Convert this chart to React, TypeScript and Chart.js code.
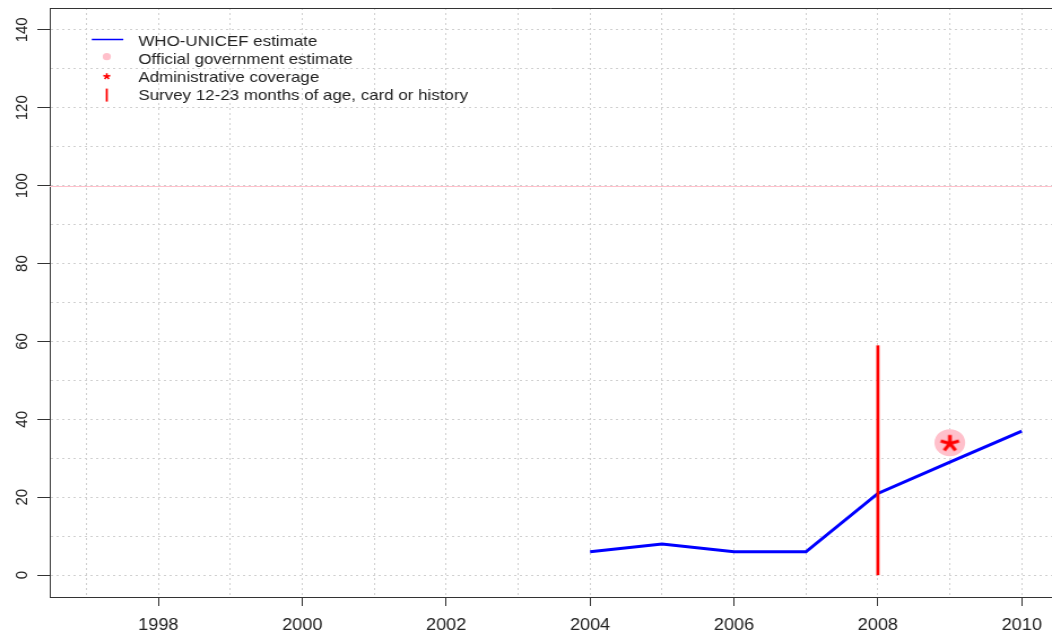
import React, { useEffect, useRef } from "react";
import { Chart, registerables } from "chart.js";

Chart.register(...registerables);

// ---- data ----
const YEARS = [2004, 2005, 2006, 2007, 2008, 2009, 2010];
const WUENIC = [6, 8, 6, 6, 21, 29, 37];
const OFFICIAL_YEARS = [2009];
const OFFICIAL = [34];
const ADMIN_YEARS = [2009];
const ADMIN = [34];
const SURVEY_YEARS = [2008];
const SURVEY = [59];
const TARGET = 100;

const X_GRID = [1997, 1998, 1999, 2000, 2001, 2002, 2003, 2004, 2005, 2006, 2007, 2008, 2009, 2010];
const X_TICK_LABELS = ["1998", "2000", "2002", "2004", "2006", "2008", "2010"];
const Y_GRID = [0, 10, 20, 30, 40, 50, 60, 70, 80, 90, 100, 110, 120, 130, 140];
const Y_TICK_LABELS = ["0", "20", "40", "60", "80", "100", "120", "140"];
const LEGEND_LABELS = [
  "WHO-UNICEF estimate",
  "Official government estimate",
  "Administrative coverage",
  "Survey 12-23 months of age, card or history",
];

const X_MIN = 1996.49;
const X_MAX = 2010.42;
const Y_MIN = -5.6;
const Y_MAX = 145.6;

const FONT = '"Liberation Sans", Arial, sans-serif';
const STRETCH = 1.13;
const W = 1052;
const H = 636;

function drawStar(ctx: CanvasRenderingContext2D, cx: number, cy: number, arm: number, lw: number, color: string) {
  ctx.save();
  ctx.strokeStyle = color;
  ctx.lineWidth = lw;
  ctx.lineCap = "butt";
  ctx.beginPath();
  for (let k = 0; k < 5; k++) {
    const a = -Math.PI / 2 + (k * 2 * Math.PI) / 5;
    ctx.moveTo(cx, cy);
    ctx.lineTo(cx + arm * Math.cos(a), cy + arm * Math.sin(a));
  }
  ctx.stroke();
  ctx.restore();
}

export default function App() {
  const ref = useRef<HTMLCanvasElement | null>(null);

  useEffect(() => {
    const canvas = ref.current;
    if (!canvas) return;

    const star = document.createElement("canvas");
    star.width = 24;
    star.height = 24;
    const sctx = star.getContext("2d");
    if (sctx) drawStar(sctx, 12, 12.8, 8.5, 3.2, "#FF0000");

    const surveyData: any[] = [];
    SURVEY_YEARS.forEach((yr, i) => {
      surveyData.push({ x: yr, y: 0 });
      surveyData.push({ x: yr, y: SURVEY[i] });
      surveyData.push({ x: yr, y: null });
    });

    const decor = {
      id: "decor",
      beforeDatasetsDraw(chart: any) {
        const { ctx, chartArea, scales } = chart;
        const y = Math.round(scales.y.getPixelForValue(TARGET)) + 0.5;
        ctx.save();
        ctx.strokeStyle = "#FFC0CB";
        ctx.lineWidth = 1;
        ctx.beginPath();
        ctx.moveTo(chartArea.left, y);
        ctx.lineTo(chartArea.right, y);
        ctx.stroke();
        ctx.restore();
      },
      afterDraw(chart: any) {
        const { ctx, chartArea, scales } = chart;
        ctx.save();
        // top frame
        ctx.strokeStyle = "#333";
        ctx.lineWidth = 1;
        ctx.beginPath();
        ctx.moveTo(chartArea.left, Math.round(chartArea.top) + 0.5);
        ctx.lineTo(chartArea.right, Math.round(chartArea.top) + 0.5);
        ctx.stroke();

        // y tick labels (rotated)
        ctx.fillStyle = "#222";
        ctx.font = `15px ${FONT}`;
        ctx.textAlign = "center";
        ctx.textBaseline = "middle";
        Y_TICK_LABELS.forEach((lab) => {
          const py = scales.y.getPixelForValue(Number(lab));
          ctx.save();
          ctx.translate(19.5, py);
          ctx.rotate(-Math.PI / 2);
          ctx.fillText(lab, 0, 0);
          ctx.restore();
        });

        // legend
        const sx = 94.5;
        const base = 45.5;
        const step = 18.2;
        ctx.strokeStyle = "#0000FF";
        ctx.lineWidth = 1.5;
        ctx.beginPath();
        ctx.moveTo(81.2, base - 6);
        ctx.lineTo(109.1, base - 6);
        ctx.stroke();
        ctx.fillStyle = "#FFC0CB";
        ctx.beginPath();
        ctx.arc(sx, base + step - 7, 3.6, 0, Math.PI * 2);
        ctx.fill();
        drawStar(ctx, sx, base + 2 * step - 5.5, 3.2, 1.6, "#FF0000");
        ctx.strokeStyle = "#FF0000";
        ctx.lineWidth = 1.8;
        ctx.beginPath();
        ctx.moveTo(sx, base + 3 * step - 11.5);
        ctx.lineTo(sx, base + 3 * step + 1.5);
        ctx.stroke();

        ctx.fillStyle = "#222";
        ctx.font = `15px ${FONT}`;
        ctx.textAlign = "left";
        ctx.textBaseline = "alphabetic";
        LEGEND_LABELS.forEach((lab, i) => {
          ctx.fillText(lab, 122.4, base + i * step);
        });
        ctx.restore();
      },
    };

    const tickCol = (labels: string[]) => (c: any) =>
      c.tick && labels.includes(String(c.tick.value)) ? "#333" : "rgba(0,0,0,0)";

    const chart = new Chart(canvas, {
      type: "line",
      data: {
        datasets: [
          {
            type: "scatter",
            label: "Official government estimate",
            data: OFFICIAL_YEARS.map((x, i) => ({ x, y: OFFICIAL[i] })),
            pointRadius: 13.6,
            pointBackgroundColor: "#FFC0CB",
            pointBorderWidth: 0,
            pointBorderColor: "rgba(0,0,0,0)",
            order: 4,
          } as any,
          {
            label: "WHO-UNICEF estimate",
            data: YEARS.map((x, i) => ({ x, y: WUENIC[i] })),
            borderColor: "#0000FF",
            borderWidth: 3,
            pointRadius: 0,
            tension: 0,
            fill: false,
            order: 3,
          },
          {
            label: "Survey",
            data: surveyData,
            borderColor: "#FF0000",
            borderWidth: 2.8,
            pointRadius: 0,
            spanGaps: false,
            fill: false,
            borderCapStyle: "butt",
            order: 2,
          },
          {
            type: "scatter",
            label: "Administrative coverage",
            data: ADMIN_YEARS.map((x, i) => ({ x, y: ADMIN[i] })),
            pointStyle: star as any,
            pointRadius: 10,
            order: 1,
          } as any,
        ],
      },
      options: {
        responsive: false,
        animation: false,
        devicePixelRatio: 1,
        layout: { autoPadding: false, padding: { top: 8, left: 0, right: 0, bottom: 0 } },
        plugins: { legend: { display: false }, tooltip: { enabled: false }, title: { display: false } },
        scales: {
          x: {
            type: "linear",
            min: X_MIN,
            max: X_MAX,
            afterBuildTicks: (s: any) => {
              s.ticks = X_GRID.map((v) => ({ value: v }));
            },
            afterFit: (s: any) => {
              s.height = 39;
              s.paddingLeft = 0;
              s.paddingRight = 0;
            },
            ticks: {
              autoSkip: false,
              maxRotation: 0,
              minRotation: 0,
              padding: 10,
              color: "#222",
              font: { family: FONT, size: 16 },
              callback: (v: any) => (X_TICK_LABELS.includes(String(v)) ? String(v) : ""),
            },
            grid: {
              color: "#d0d0d0",
              lineWidth: 1,
              drawTicks: true,
              tickLength: 9,
              tickWidth: 1,
              tickColor: tickCol(X_TICK_LABELS),
            },
            border: { display: true, color: "#333", width: 1, dash: [2, 3] },
          } as any,
          y: {
            type: "linear",
            min: Y_MIN,
            max: Y_MAX,
            afterBuildTicks: (s: any) => {
              s.ticks = Y_GRID.map((v) => ({ value: v }));
            },
            afterFit: (s: any) => {
              s.width = 44;
              s.paddingTop = 0;
              s.paddingBottom = 0;
            },
            ticks: { display: false },
            grid: {
              color: "#d0d0d0",
              lineWidth: 1,
              drawTicks: true,
              tickLength: 11,
              tickWidth: 1,
              tickColor: tickCol(Y_TICK_LABELS),
            },
            border: { display: true, color: "#333", width: 1, dash: [2, 3] },
          } as any,
        },
      },
      plugins: [decor],
    });

    return () => chart.destroy();
  }, []);

  return (
    <div style={{ position: "fixed", left: 0, top: 0, width: W, height: H, background: "#fff" }}>
      <canvas
        ref={ref}
        width={Math.round(W / STRETCH)}
        height={H}
        style={{ width: `${W}px`, height: `${H}px`, display: "block" }}
      />
    </div>
  );
}
